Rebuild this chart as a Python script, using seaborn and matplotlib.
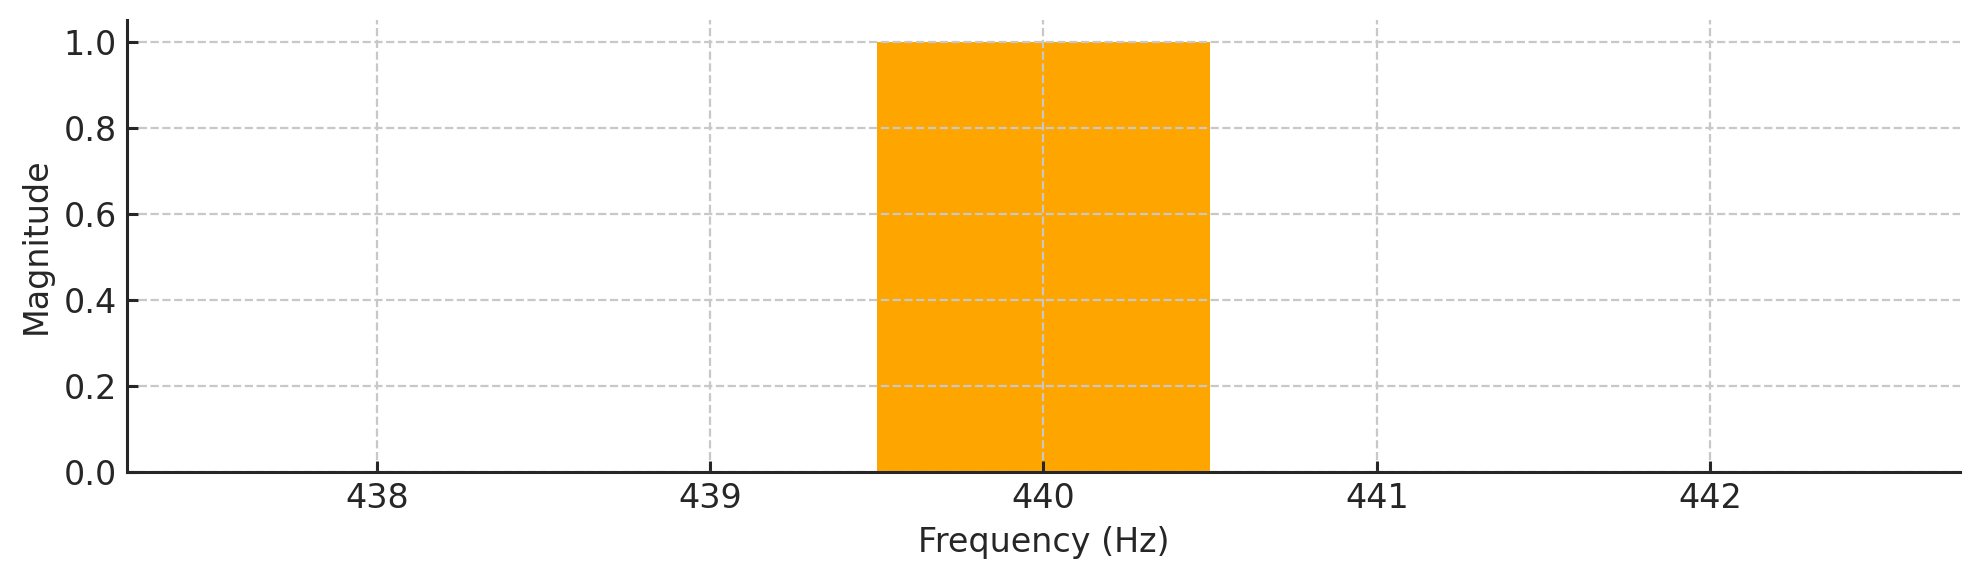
import numpy as np
import pandas as pd
import matplotlib
matplotlib.use("Agg")
import matplotlib.pyplot as plt
import seaborn as sns

# spectrum around the 440 Hz peak
frequencies = [438, 439, 440, 441, 442]
magnitudes = [0.0, 0.0, 1.0, 0.0, 0.0]

spec = pd.DataFrame({"Frequency": frequencies, "Magnitude": magnitudes})

sns.set_style("ticks")
plt.rcParams["font.family"] = ["DejaVu Sans"]
plt.rcParams["xtick.direction"] = "in"
plt.rcParams["ytick.direction"] = "in"

fig, ax = plt.subplots(figsize=(9.9, 2.9), dpi=200)
fig.subplots_adjust(left=0.064, right=0.990, top=0.9655, bottom=0.186)

sns.barplot(data=spec, x="Frequency", y="Magnitude", native_scale=True,
            width=1.0, color="#FFA500", saturation=1, ax=ax, linewidth=0)
ax.margins(x=0.05)

ax.grid(True, linestyle="--", color="#c8c8c8", linewidth=0.8)
ax.set_axisbelow(False)
for s in ["top", "right"]:
    ax.spines[s].set_visible(False)
for s in ["left", "bottom"]:
    ax.spines[s].set_linewidth(1.1)
    ax.spines[s].set_color("#262626")
    ax.spines[s].set_zorder(5)

ax.tick_params(labelsize=12, colors="#262626", width=1.1, length=4)
ax.set_xlabel("Frequency (Hz)", fontsize=12, color="#262626")
ax.set_ylabel("Magnitude", fontsize=12, color="#262626")

fig.savefig("out.png", dpi=200)
